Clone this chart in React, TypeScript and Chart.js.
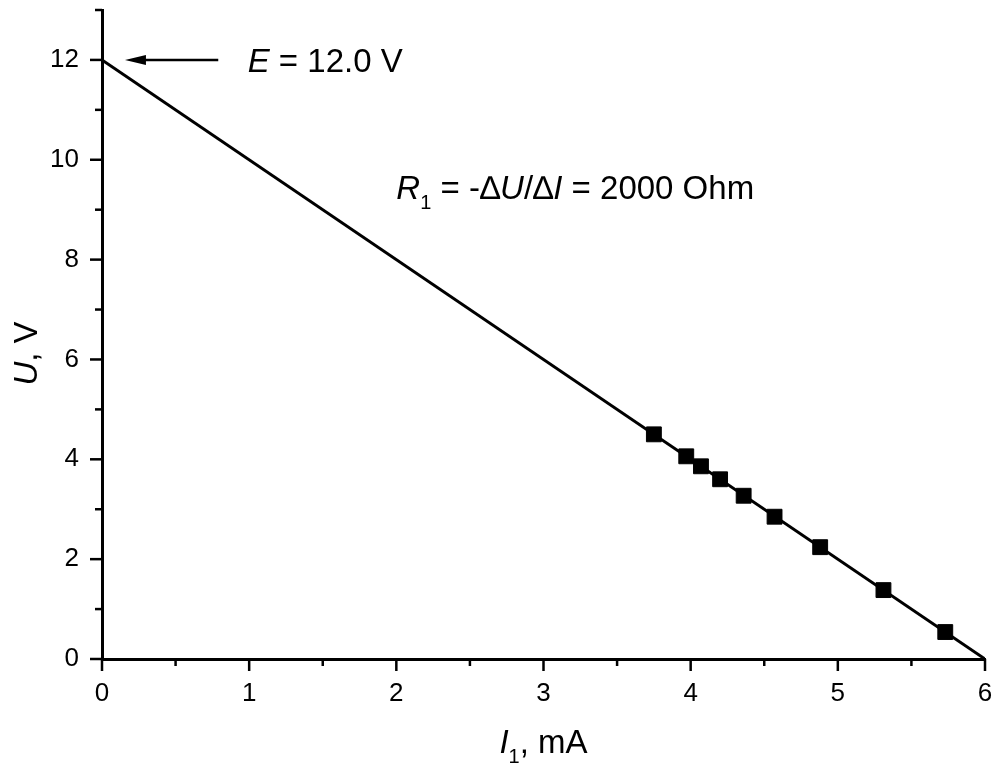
import React, { useEffect, useRef } from "react";
import { Chart, registerables } from "chart.js";

Chart.register(...registerables);

// Measured data points (current in mA, voltage in V)
const currentMA = [3.75, 3.97, 4.07, 4.2, 4.36, 4.57, 4.88, 5.31, 5.73];
const voltageV = [4.5, 4.06, 3.86, 3.6, 3.27, 2.85, 2.24, 1.38, 0.54];
// Linear fit line end points
const fitI = [0, 6];
const fitU = [12, 0];
// Annotation anchors (data coordinates)
const arrowFromI = 0.79;
const arrowToI = 0.156;
const arrowU = 12;
const eLabelI = 0.99;
const rLabelI = 2.0;
const rLabelU = 9.45;

const FONT = "'Liberation Sans', Arial, sans-serif";
const LABEL_SIZE = 33;
const TICK_SIZE = 26;

type Piece = { t: string; italic?: boolean; sub?: boolean };

function drawRich(ctx: CanvasRenderingContext2D, pieces: Piece[], x: number, y: number, size: number, align: "left" | "center") {
  const fontOf = (p: Piece) => `${p.italic ? "italic " : ""}${p.sub ? Math.round(size * 0.62) : size}px ${FONT}`;
  let total = 0;
  for (const p of pieces) {
    ctx.font = fontOf(p);
    total += ctx.measureText(p.t).width;
  }
  let cx = align === "center" ? x - total / 2 : x;
  ctx.textBaseline = "alphabetic";
  ctx.textAlign = "left";
  for (const p of pieces) {
    ctx.font = fontOf(p);
    ctx.fillText(p.t, cx, p.sub ? y + size * 0.3 : y);
    cx += ctx.measureText(p.t).width;
  }
}

const decorPlugin = {
  id: "decor",
  afterDraw(chart: any) {
    const { ctx, chartArea } = chart;
    const xs = chart.scales.x;
    const ys = chart.scales.y;
    ctx.save();
    ctx.strokeStyle = "#000";
    ctx.fillStyle = "#000";
    ctx.lineWidth = 2.5;
    // x ticks (outside, below)
    xs.ticks.forEach((t: any) => {
      const px = xs.getPixelForValue(t.value);
      const major = Math.abs(t.value - Math.round(t.value)) < 1e-9;
      ctx.beginPath();
      ctx.moveTo(px, chartArea.bottom);
      ctx.lineTo(px, chartArea.bottom + (major ? 12 : 7));
      ctx.stroke();
    });
    // y ticks (outside, left)
    ys.ticks.forEach((t: any) => {
      const py = ys.getPixelForValue(t.value);
      const major = Math.round(t.value) % 2 === 0;
      ctx.beginPath();
      ctx.moveTo(chartArea.left, py);
      ctx.lineTo(chartArea.left - (major ? 12 : 7), py);
      ctx.stroke();
    });

    // Arrow pointing to E
    const ay = ys.getPixelForValue(arrowU);
    const ax0 = xs.getPixelForValue(arrowFromI);
    const ax1 = xs.getPixelForValue(arrowToI);
    ctx.lineWidth = 2.5;
    ctx.beginPath();
    ctx.moveTo(ax0, ay);
    ctx.lineTo(ax1 + 14, ay);
    ctx.stroke();
    ctx.beginPath();
    ctx.moveTo(ax1, ay);
    ctx.lineTo(ax1 + 21, ay - 5);
    ctx.lineTo(ax1 + 21, ay + 5);
    ctx.closePath();
    ctx.fill();

    // E label
    drawRich(
      ctx,
      [{ t: "E", italic: true }, { t: " = 12.0 V" }],
      xs.getPixelForValue(eLabelI),
      ay + 12,
      LABEL_SIZE,
      "left"
    );

    // R label
    drawRich(
      ctx,
      [
        { t: "R", italic: true },
        { t: "1", sub: true },
        { t: " = -" },
        { t: "\u2206" },
        { t: "U", italic: true },
        { t: "/" },
        { t: "\u2206" },
        { t: "I", italic: true },
        { t: " = 2000 Ohm" },
      ],
      xs.getPixelForValue(rLabelI),
      ys.getPixelForValue(rLabelU) + 12,
      LABEL_SIZE,
      "left"
    );

    // X axis title
    drawRich(
      ctx,
      [{ t: "I", italic: true }, { t: "1", sub: true }, { t: ", mA" }],
      (chartArea.left + chartArea.right) / 2,
      chartArea.bottom + 94,
      LABEL_SIZE,
      "center"
    );

    // Y axis title (rotated)
    ctx.save();
    ctx.translate(chartArea.left - 65, (chartArea.top + chartArea.bottom) / 2 + 19);
    ctx.rotate(-Math.PI / 2);
    drawRich(ctx, [{ t: "U", italic: true }, { t: ", V" }], 0, 0, LABEL_SIZE, "center");
    ctx.restore();

    ctx.restore();
  },
};

export default function App() {
  const ref = useRef<HTMLCanvasElement | null>(null);

  useEffect(() => {
    if (!ref.current) return;
    const chart = new Chart(ref.current, {
      type: "scatter",
      data: {
        datasets: [
          {
            label: "fit",
            data: fitI.map((v, i) => ({ x: v, y: fitU[i] })),
            showLine: true,
            borderColor: "#000",
            borderWidth: 3,
            pointRadius: 0,
            order: 2,
          },
          {
            label: "measured",
            data: currentMA.map((v, i) => ({ x: v, y: voltageV[i] })),
            showLine: false,
            pointStyle: "rect",
            pointRadius: 10.5,
            backgroundColor: "#000",
            borderColor: "#000",
            borderWidth: 1,
            order: 1,
          },
        ],
      },
      options: {
        animation: false,
        responsive: false,
        devicePixelRatio: 1,
        layout: { autoPadding: false, padding: { top: 10, right: 7, left: 0, bottom: 0 } },
        plugins: {
          legend: { display: false },
          tooltip: { enabled: false },
        },
        scales: {
          x: {
            type: "linear",
            min: 0,
            max: 6,
            grid: { display: false, drawTicks: false },
            border: { display: true, color: "#000", width: 3 },
            ticks: {
              stepSize: 0.5,
              padding: 19,
              color: "#000",
              font: { family: FONT, size: TICK_SIZE },
              maxRotation: 0,
              autoSkip: false,
              callback: (v: any) => (Math.abs(v - Math.round(v)) < 1e-9 ? String(Math.round(v)) : ""),
            },
            afterFit: (s: any) => {
              s.height = 108;
              s.paddingLeft = 0;
              s.paddingRight = 0;
              s.paddingTop = 0;
              s.paddingBottom = 0;
            },
          },
          y: {
            type: "linear",
            min: 0,
            max: 13,
            grid: { display: false, drawTicks: false },
            border: { display: true, color: "#000", width: 3 },
            ticks: {
              stepSize: 1,
              padding: 23,
              color: "#000",
              font: { family: FONT, size: TICK_SIZE },
              autoSkip: false,
              callback: (v: any) => (Math.round(v) % 2 === 0 ? String(Math.round(v)) : ""),
            },
            afterFit: (s: any) => {
              s.width = 102;
              s.paddingLeft = 0;
              s.paddingRight = 0;
              s.paddingTop = 0;
              s.paddingBottom = 0;
            },
          },
        },
      },
      plugins: [decorPlugin],
    });
    return () => chart.destroy();
  }, []);

  return (
    <div style={{ position: "fixed", left: 0, top: 0, width: 992, height: 767, background: "#fff" }}>
      <canvas ref={ref} width={992} height={767} />
    </div>
  );
}
